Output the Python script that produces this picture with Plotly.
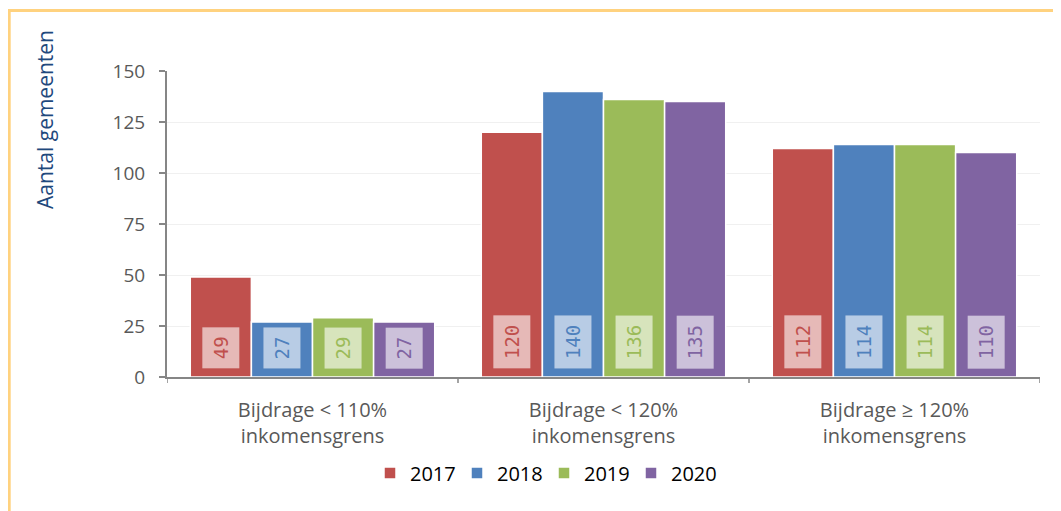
import plotly.graph_objects as go

categories = ["Bijdrage < 110%<br>inkomensgrens",
              "Bijdrage < 120%<br>inkomensgrens",
              "Bijdrage ≥ 120%<br>inkomensgrens"]
years = ["2017", "2018", "2019", "2020"]
values = {
    "2017": [49, 120, 112],
    "2018": [27, 140, 114],
    "2019": [29, 136, 114],
    "2020": [27, 135, 110],
}
colors = {"2017": "#C0504D", "2018": "#4F81BD", "2019": "#9BBB59", "2020": "#8064A2"}
y_ticks = [0, 25, 50, 75, 100, 125, 150]

# page body has an 8px margin; figure is sized to fit the window
OFF = 8
W, H = 1061 - OFF, 511 - OFF
L, R, T, B = 167 - OFF, 21, 71 - OFF, 134
bargap = 0.16

fig = go.Figure()
for yr in years:
    fig.add_trace(go.Bar(
        name=yr, x=list(range(len(categories))), y=values[yr],
        marker=dict(color=colors[yr], line=dict(color="#FFFFFF", width=1.5)),
    ))

annotations = []
n = len(years)
bw = (1 - bargap) / n
for i, yr in enumerate(years):
    for ci, v in enumerate(values[yr]):
        txt = str(v)
        annotations.append(dict(
            x=ci + (i - (n - 1) / 2) * bw, y=0, xref="x", yref="y",
            text=txt, showarrow=False, textangle=-90,
            xanchor="center", yanchor="bottom", yshift=8,
            font=dict(family="DejaVu Sans Mono", size=19, color=colors[yr]),
            bgcolor="rgba(255,255,255,0.6)", borderpad=0,
            width=len(txt) * 12 + 16, height=36,
        ))

pw = W - L - R
ph = H - T - B
base_y = H - B  # pixel row of y=0 in figure coords


def px_x(px):
    return (px - OFF - L) / pw


def px_y(py):
    return (base_y - (py - OFF)) / ph


annotations.append(dict(
    x=px_x(45), y=px_y(120), xref="paper", yref="paper",
    text="Aantal gemeenten", showarrow=False, textangle=-90,
    xanchor="center", yanchor="middle",
    font=dict(family="Open Sans", size=21, color="#1F497D"),
))

fig.update_layout(
    width=W, height=H,
    margin=dict(l=L, r=R, t=T, b=B, pad=0),
    paper_bgcolor="white", plot_bgcolor="white",
    barmode="group", bargap=bargap, bargroupgap=0.0,
    font=dict(family="Open Sans", size=18, color="#595959"),
    xaxis=dict(
        type="linear", range=[-0.5, 2.5],
        tickmode="array", tickvals=[0, 1, 2], ticktext=categories,
        showline=True, linecolor="#868686", linewidth=2,
        ticks="", showgrid=False, zeroline=False,
        ticklabelstandoff=14,
        tickfont=dict(family="Open Sans", size=20, color="#595959"),
    ),
    yaxis=dict(
        range=[0, 150], tickvals=y_ticks,
        showline=True, linecolor="#868686", linewidth=2,
        ticks="outside", ticklen=6, tickcolor="#868686", tickwidth=1.5,
        gridcolor="#F0F0F0", gridwidth=1, zeroline=False,
        ticklabelstandoff=10,
        tickfont=dict(family="Open Sans", size=19, color="#595959"),
    ),
    legend=dict(
        orientation="h", x=px_x(386 - 16), xanchor="left", y=px_y(473), yanchor="middle",
        font=dict(family="Open Sans", size=20, color="#000000"),
        entrywidth=42, entrywidthmode="pixels",
        itemclick=False,
    ),
    showlegend=True,
    annotations=annotations,
    shapes=[
        dict(type="rect", xref="paper", yref="paper",
             x0=px_x(OFF + 1.2), x1=px_x(1061 + 20),
             y0=px_y(511 + 20), y1=px_y(OFF + 2.5),
             line=dict(color="#FFD27F", width=3), fillcolor="rgba(0,0,0,0)", layer="below"),
    ] + [
        dict(type="line", xref="x", yref="paper", x0=b, x1=b, y0=0, y1=-6 / ph,
             line=dict(color="#868686", width=1.5))
        for b in [-0.5, 0.5, 1.5, 2.5]
    ],
)

fig.write_html("out.html")
